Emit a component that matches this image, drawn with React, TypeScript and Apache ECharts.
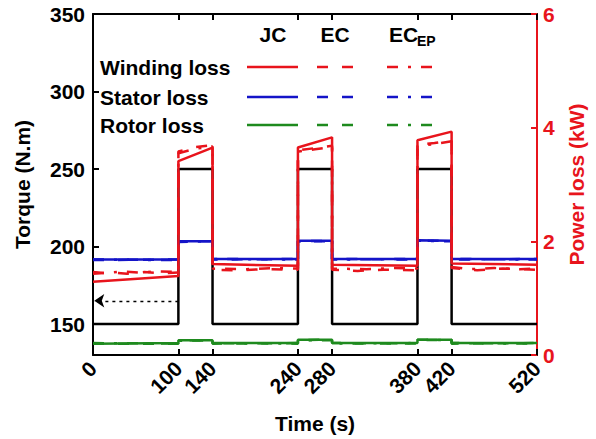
import React, { useEffect, useRef } from "react";
import * as echarts from "echarts";

// ---- data ----
const xTicks = [0, 100, 140, 240, 280, 380, 420, 520];
const leftTicks = [150, 200, 250, 300, 350];

const torqueT = [0, 100, 100, 140, 140, 240, 240, 280, 280, 380, 380, 420, 420, 520];
const torqueV = [150, 150, 250, 250, 150, 150, 250, 250, 150, 150, 250, 250, 150, 150];

const windJCT = [0, 100, 100, 140, 140, 240, 240, 280, 280, 380, 380, 420, 420, 520];
const windJCV = [1.29, 1.39, 3.41, 3.65, 1.6, 1.57, 3.65, 3.83, 1.59, 1.57, 3.78, 3.93, 1.61, 1.59];

const windECT = [0, 20, 40, 60, 80, 100, 100, 120, 140, 140, 170, 200, 240, 240, 260, 280, 280, 310, 340, 380, 380, 400, 420, 420, 450, 480, 520];
const windECV = [1.43, 1.45, 1.43, 1.46, 1.44, 1.45, 3.58, 3.66, 3.69, 1.5, 1.49, 1.51, 1.5, 3.6, 3.64, 3.68, 1.5, 1.48, 1.5, 1.49, 3.7, 3.73, 3.78, 1.53, 1.49, 1.52, 1.5];

const windEPT = [0, 15, 35, 55, 75, 100, 100, 120, 140, 140, 180, 210, 240, 240, 260, 280, 280, 320, 350, 380, 380, 400, 420, 420, 440, 470, 500, 520];
const windEPV = [1.46, 1.44, 1.47, 1.45, 1.47, 1.46, 3.55, 3.63, 3.67, 1.52, 1.51, 1.53, 1.52, 3.58, 3.62, 3.66, 1.52, 1.51, 1.53, 1.52, 3.68, 3.71, 3.76, 1.55, 1.51, 1.53, 1.51, 1.52];

const statorT = [0, 100, 100, 140, 140, 240, 240, 280, 280, 380, 380, 420, 420, 520];
const statorJC = [1.68, 1.68, 2.0, 2.0, 1.69, 1.69, 2.01, 2.01, 1.69, 1.69, 2.02, 2.01, 1.69, 1.69];
const statorEC = [1.67, 1.68, 2.0, 2.0, 1.68, 1.69, 2.0, 2.0, 1.69, 1.68, 2.01, 2.01, 1.68, 1.69];
const statorEP = [1.68, 1.67, 1.99, 2.0, 1.69, 1.68, 2.0, 2.01, 1.68, 1.69, 2.01, 2.0, 1.69, 1.68];

const rotorT = [0, 100, 100, 140, 140, 240, 240, 280, 280, 380, 380, 420, 420, 520];
const rotorJC = [0.2, 0.21, 0.26, 0.26, 0.21, 0.21, 0.27, 0.27, 0.21, 0.21, 0.27, 0.27, 0.21, 0.21];
const rotorEC = [0.2, 0.2, 0.26, 0.26, 0.2, 0.21, 0.26, 0.27, 0.21, 0.2, 0.26, 0.27, 0.2, 0.21];
const rotorEP = [0.21, 0.2, 0.25, 0.26, 0.21, 0.2, 0.26, 0.26, 0.2, 0.21, 0.27, 0.26, 0.21, 0.2];

const arrowY = 165;

const zip = (t: number[], v: number[]) => t.map((x, i) => [x, v[i]]);

const FONT = "Liberation Sans, Arial, sans-serif";
const RED = "#e8141c";
const BLUE = "#1414c8";
const GREEN = "#1e8a1e";
const DASH = [11, 14];
const DASHDOT = [11, 10, 3, 10];

export default function App() {
  const ref = useRef<HTMLDivElement>(null);
  useEffect(() => {
    if (!ref.current) return;
    const chart = echarts.init(ref.current, undefined, { renderer: "svg" });

    const lineSeries = (
      name: string,
      data: number[][],
      color: string,
      type: any,
      yAxisIndex: number,
      width = 2.5
    ) => ({
      name,
      type: "line",
      data,
      yAxisIndex,
      showSymbol: false,
      symbol: "none",
      silent: true,
      lineStyle: { color, width, type },
      z: 3,
    });

    const legendRows = [
      { label: "Winding loss", y: 67, color: RED },
      { label: "Stator loss", y: 97, color: BLUE },
      { label: "Rotor loss", y: 125, color: GREEN },
    ];

    const graphics: any[] = [];
    legendRows.forEach((r) => {
      graphics.push({
        type: "text",
        x: 100,
        y: r.y,
        style: { text: r.label, font: `bold 21px ${FONT}`, fill: "#000", textVerticalAlign: "middle" },
        z: 10,
      });
      graphics.push({
        type: "line",
        shape: { x1: 247, y1: r.y, x2: 298, y2: r.y },
        style: { stroke: r.color, lineWidth: 2.5 },
        z: 10,
      });
      graphics.push({
        type: "line",
        shape: { x1: 317, y1: r.y, x2: 356, y2: r.y },
        style: { stroke: r.color, lineWidth: 2.5, lineDash: DASH },
        z: 10,
      });
      graphics.push({
        type: "line",
        shape: { x1: 387, y1: r.y, x2: 438, y2: r.y },
        style: { stroke: r.color, lineWidth: 2.5, lineDash: DASHDOT },
        z: 10,
      });
    });
    graphics.push({
      type: "text",
      x: 273,
      y: 34,
      style: { text: "JC", font: `bold 21px ${FONT}`, fill: "#000", textAlign: "center", textVerticalAlign: "middle" },
      z: 10,
    });
    graphics.push({
      type: "text",
      x: 335,
      y: 34,
      style: { text: "EC", font: `bold 21px ${FONT}`, fill: "#000", textAlign: "center", textVerticalAlign: "middle" },
      z: 10,
    });
    graphics.push({
      type: "text",
      x: 389,
      y: 34,
      style: { text: "EC", font: `bold 21px ${FONT}`, fill: "#000", textAlign: "left", textVerticalAlign: "middle" },
      z: 10,
    });
    graphics.push({
      type: "text",
      x: 417,
      y: 41,
      style: { text: "EP", font: `bold 14px ${FONT}`, fill: "#000", textAlign: "left", textVerticalAlign: "middle" },
      z: 10,
    });

    const tickLabel = { fontFamily: FONT, fontWeight: "bold", fontSize: 21, color: "#000" };

    chart.setOption({
      animation: false,
      backgroundColor: "#fff",
      grid: { left: 93, right: 59, top: 14, bottom: 84, containLabel: false },
      xAxis: [
        {
          type: "value",
          min: 0,
          max: 520,
          position: "bottom",
          name: "Time (s)",
          nameLocation: "middle",
          nameGap: 58,
          nameTextStyle: { fontFamily: FONT, fontWeight: "bold", fontSize: 21, color: "#000" },
          axisLine: { show: true, onZero: false, lineStyle: { color: "#000", width: 2 } },
          axisTick: { show: true, inside: true, length: 6, lineStyle: { color: "#000", width: 2 }, customValues: xTicks },
          axisLabel: { ...tickLabel, rotate: 45, margin: 10, customValues: xTicks },
          splitLine: { show: false },
        },
        {
          type: "value",
          min: 0,
          max: 520,
          position: "top",
          axisLine: { show: true, onZero: false, lineStyle: { color: "#000", width: 2 } },
          axisTick: { show: true, inside: true, length: 6, lineStyle: { color: "#000", width: 2 }, customValues: xTicks },
          axisLabel: { show: false },
          splitLine: { show: false },
        },
      ],
      yAxis: [
        {
          type: "value",
          min: 130,
          max: 350,
          position: "left",
          name: "Torque (N.m)",
          nameLocation: "middle",
          nameRotate: 90,
          nameGap: 60,
          nameTextStyle: { fontFamily: FONT, fontWeight: "bold", fontSize: 21, color: "#000" },
          axisLine: { show: true, onZero: false, lineStyle: { color: "#000", width: 2 } },
          axisTick: { show: true, inside: true, length: 6, lineStyle: { color: "#000", width: 2 }, customValues: leftTicks },
          axisLabel: { ...tickLabel, margin: 8, customValues: leftTicks },
          splitLine: { show: false },
        },
        {
          type: "value",
          min: 0,
          max: 6,
          interval: 2,
          position: "right",
          name: "Power loss (kW)",
          nameLocation: "middle",
          nameRotate: 90,
          nameGap: 28,
          nameTextStyle: { fontFamily: FONT, fontWeight: "bold", fontSize: 21, color: RED },
          axisLine: { show: true, onZero: false, lineStyle: { color: RED, width: 2 } },
          axisTick: { show: true, inside: true, length: 6, lineStyle: { color: RED, width: 2 } },
          axisLabel: { ...tickLabel, color: RED, margin: 6 },
          splitLine: { show: false },
        },
      ],
      graphic: graphics,
      series: [
        {
          ...lineSeries("Torque", zip(torqueT, torqueV), "#000", "solid", 0),
          z: 2,
          markLine: {
            silent: true,
            symbol: ["none", "arrow"],
            symbolSize: 10,
            label: { show: false },
            lineStyle: { color: "#000", width: 1.3, type: [3, 4] },
            data: [[{ coord: [100, arrowY] }, { coord: [1.5, arrowY] }]],
          },
        },
        lineSeries("Rotor EC_EP", zip(rotorT, rotorEP), GREEN, DASHDOT, 1),
        lineSeries("Rotor EC", zip(rotorT, rotorEC), GREEN, DASH, 1),
        lineSeries("Rotor JC", zip(rotorT, rotorJC), GREEN, "solid", 1),
        lineSeries("Stator EC_EP", zip(statorT, statorEP), BLUE, DASHDOT, 1),
        lineSeries("Stator EC", zip(statorT, statorEC), BLUE, DASH, 1),
        lineSeries("Stator JC", zip(statorT, statorJC), BLUE, "solid", 1),
        lineSeries("Winding EC_EP", zip(windEPT, windEPV), RED, DASHDOT, 1),
        lineSeries("Winding EC", zip(windECT, windECV), RED, DASH, 1),
        lineSeries("Winding JC", zip(windJCT, windJCV), RED, "solid", 1),
      ],
    });
    return () => chart.dispose();
  }, []);
  return <div ref={ref} style={{ position: "absolute", left: 0, top: 0, width: 596, height: 439 }} />;
}
